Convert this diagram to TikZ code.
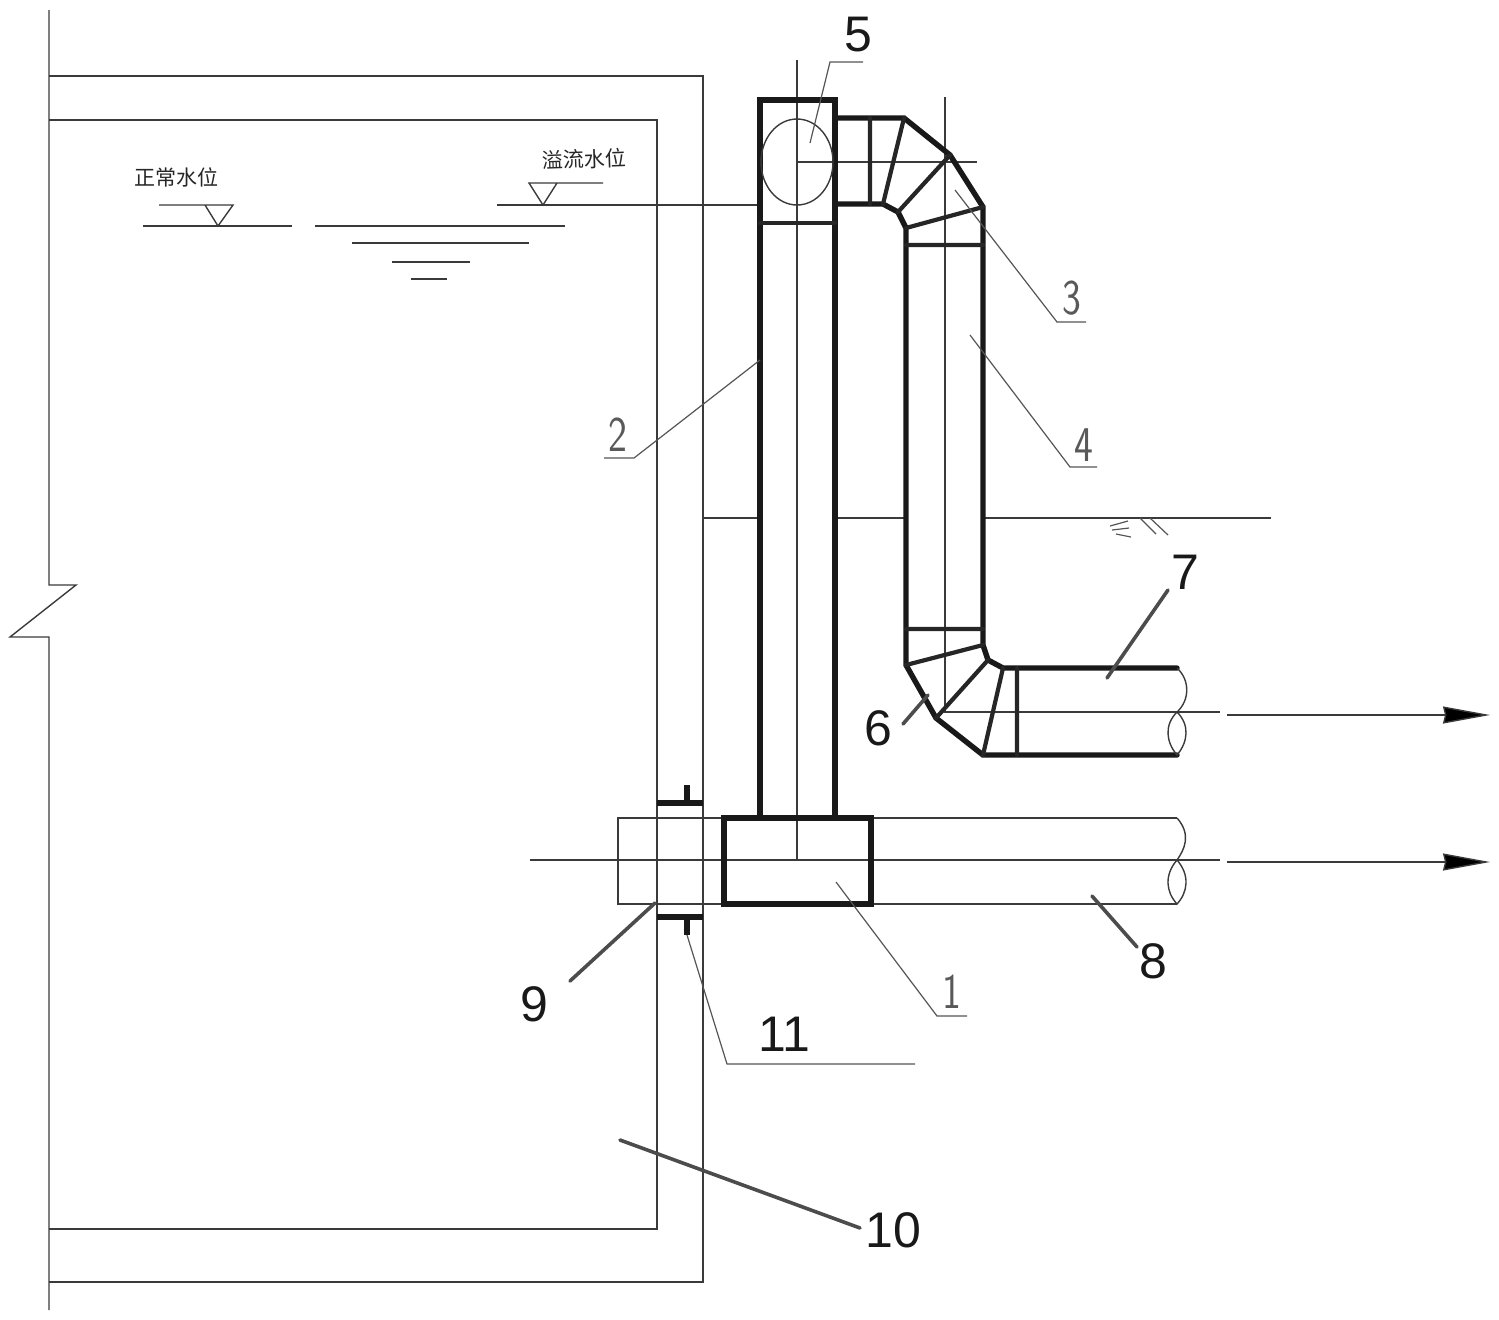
\documentclass[tikz,border=0pt]{standalone}
\usepackage{fontspec}
\setmainfont{Liberation Sans}
\newfontfamily\cjk{Noto Sans CJK SC}
\usetikzlibrary{arrows.meta}
\definecolor{thinc}{HTML}{3A3A3A}
\definecolor{leadc}{HTML}{555555}
\tikzset{
  thin line/.style={draw=thinc,line width=0.7pt},
  heavy/.style={draw=black!90,line width=2.7pt,line join=miter,line cap=round},
  medium/.style={draw=black!85,line width=2.1pt,line cap=round},
  flange/.style={draw=black!90,line width=2.7pt,line cap=butt},
  leader/.style={draw=leadc,line width=0.6pt},
  bold leader/.style={draw=black!70,line width=1.8pt,line cap=round},
  num/.style={font=\fontsize{25}{25}\selectfont,text=black!90,inner sep=0pt},
  thin num/.style={font=\sffamily\fontsize{25}{25}\selectfont,text=black!65,inner sep=0pt,xscale=0.8},
  cn/.style={font=\cjk\fontsize{10.5}{10.5}\selectfont,text=black!85,inner sep=0pt},
  flow/.style={draw=thinc,line width=0.7pt,-{Stealth[length=23.5pt,width=8.5pt,inset=1pt,fill=black]}},
}
\begin{document}
\begin{tikzpicture}[x=0.5pt,y=-0.5pt]
\useasboundingbox (0,0) rectangle (1499,1319);
% tank walls
\draw[thin line] (49,10) -- (49,585) -- (76,585) -- (10,637) -- (49,637) -- (49,1310);
\draw[thin line] (49,76) -- (703,76) -- (703,1282) -- (49,1282);
\draw[thin line] (49,120) -- (657,120) -- (657,1229) -- (49,1229);
% ground
\draw[thin line] (703,518) -- (760,518) (836,518) -- (905,518) (983,518) -- (1271,518);
\draw[leader] (1110,526) -- (1128,521) (1112,530) -- (1129,528) (1116,534) -- (1131,537)
  (1140,518) -- (1156,534) (1150,518) -- (1168,535);
% water levels
\draw[thin line] (143,226) -- (292,226) (315,226) -- (565,226) (352,243) -- (529,243) (392,262) -- (470,262) (411,279) -- (447,279);
\draw[thin line] (159,205) -- (233,205) -- (218,226) -- (205,205);
\draw[thin line] (603,183) -- (529,183) -- (543,205) -- (557,183);
\draw[thin line] (497,205) -- (760,205);
\node[cn] (lvlnormal) at (176,177) {正常水位};
\node[cn,rotate=2] (lvlover) at (584,159) {溢流水位};
% centre lines
\draw[thin line] (797,60) -- (797,860);
\draw[thin line] (797,162) -- (977,162);
\draw[thin line] (945,97) -- (945,712) -- (1220,712);
\draw[thin line] (530,860) -- (1220,860);
% lower pipe
\draw[thin line] (1177,818) -- (618,818) -- (618,904) -- (1177,904);
\draw[thin line] (1177,818) .. controls (1192,835) and (1184,850) .. (1177,860)
  .. controls (1164,875) and (1166,892) .. (1177,904)
  .. controls (1188,892) and (1190,875) .. (1177,860);
% riser
\draw[heavy] (760,818) -- (760,100) -- (835,100) -- (835,818);
\draw[medium] (760,223) -- (835,223);
\draw[thin line] (797,162) ellipse [x radius=36,y radius=43];
% upper elbow
\draw[heavy] (835,118) -- (904,118) -- (950,155) -- (983,207) -- (983,645) -- (988,660) -- (1003,668) -- (1177,668);
\draw[heavy] (835,204) -- (883,204) -- (898,212) -- (906,228) -- (906,665) -- (936,718) -- (983,755) -- (1177,755);
\draw[medium] (870,118) -- (870,204) (904,118) -- (883,204) (950,155) -- (898,212) (983,207) -- (906,228) (906,245) -- (983,245);
% lower elbow
\draw[medium] (906,629) -- (983,629) (983,645) -- (906,665) (988,660) -- (936,718) (1003,668) -- (983,755) (1017,668) -- (1017,755);
% outlet break
\draw[thin line] (1177,668) .. controls (1190,680) and (1190,700) .. (1177,712)
  .. controls (1164,725) and (1166,742) .. (1177,755)
  .. controls (1188,742) and (1190,725) .. (1177,712);
% flow arrows
\coordinate (a1s) at (1227,715); \coordinate (a1e) at (1490,715);
\coordinate (a2s) at (1227,862); \coordinate (a2e) at (1490,862);
\draw[flow] (a1s) -- (a1e);
\draw[flow] (a2s) -- (a2e);
% collector box
\draw[heavy,fill=none] (724,818) rectangle (871,904);
% flanges
\draw[flange] (657,803) -- (703,803) (687,785) -- (687,803);
\draw[flange] (657,917) -- (703,917) (687,917) -- (687,935);
% leaders and labels
\node[num] (n5) at (858,35) {5};
\draw[leader] (810,143) -- (830,62) -- (863,62);
\node[thin num] (n3) at (1072,298) {3};
\draw[leader] (955,190) -- (1057,322) -- (1086,322);
\node[thin num] (n2) at (618,435) {2};
\draw[leader] (760,360) -- (634,458) -- (604,458);
\node[thin num] (n4) at (1084,445) {4};
\draw[leader] (970,335) -- (1070,467) -- (1097,467);
\node[num] (n7) at (1185,572) {7};
\draw[bold leader] (1107,678) -- (1168,590);
\node[num] (n6) at (878,728) {6};
\draw[bold leader] (903,724) -- (928,695);
\node[num] (n9) at (534,1004) {9};
\draw[bold leader] (655,903) -- (570,981);
\node[num] (n11) at (784,1034) {11};
\draw[leader] (687,935) -- (727,1064) -- (915,1064);
\node[thin num] (n1) at (952,992) {1};
\draw[leader] (836,882) -- (937,1016) -- (967,1016);
\node[num] (n8) at (1153,961) {8};
\draw[bold leader] (1092,896) -- (1137,947);
\node[num] (n10) at (893,1230) {10};
\draw[bold leader] (620,1140) -- (860,1228);
\end{tikzpicture}
\end{document}
